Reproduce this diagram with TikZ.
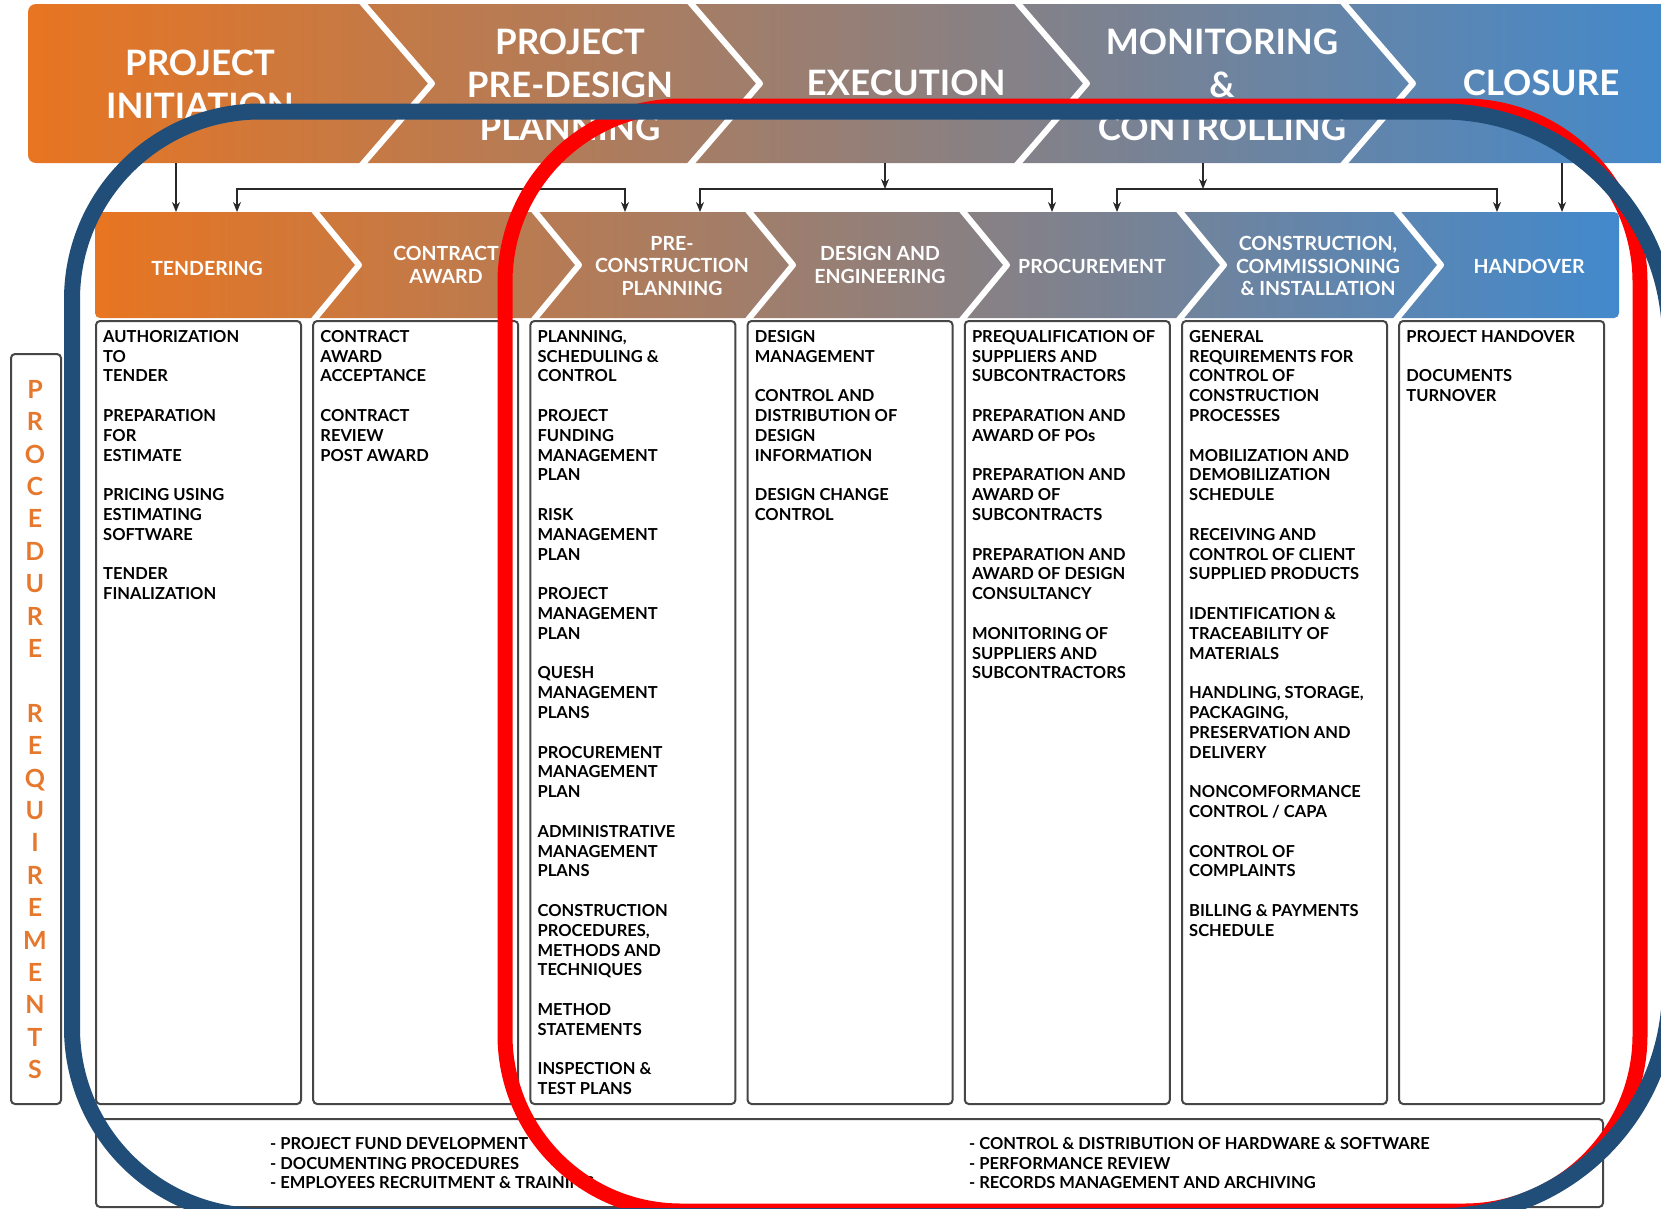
\documentclass[tikz,border=0pt]{standalone}
\usepackage{fontspec}
\setmainfont{Lato}
\usetikzlibrary{arrows.meta}
\definecolor{cOr}{RGB}{232,117,33}
\definecolor{cMid}{RGB}{160,124,106}
\definecolor{cBl}{RGB}{66,137,204}
\definecolor{cBorder}{RGB}{70,70,70}
\definecolor{cOrT}{RGB}{230,120,45}
\definecolor{cNavy}{RGB}{33,78,121}
\definecolor{cArr}{RGB}{40,40,40}
\begin{document}
\begin{tikzpicture}[x=1pt,y=-1pt,
  phase/.style={text=white, font=\fontsize{35}{43}\selectfont\bfseries, align=center, inner sep=0pt},
  sub/.style={text=white, font=\fontsize{19.5}{22.5}\selectfont\bfseries, align=center, inner sep=0pt},
  colbox/.style={draw=cBorder, line width=2pt, rounded corners=4pt, fill=white, anchor=north west, inner sep=0pt},
  items/.style={anchor=north west, align=left, inner sep=0pt, font=\fontsize{16.5}{19.8}\selectfont\bfseries, text=black},
  sepline/.style={white, line width=6pt, line join=round},
  conn/.style={cArr, line width=1.4pt},
  arr/.style={conn, -{Stealth[length=10pt,width=8pt]}},
  darr/.style={conn, {Stealth[length=10pt,width=8pt]}-{Stealth[length=10pt,width=8pt]}},
]
\useasboundingbox (0,0) rectangle (1661,1208);
\fill[white] (0,0) rectangle (1661,1208);

% top banner
\shade[left color=cOr, middle color=cMid, right color=cBl, rounded corners=8pt] (28,4) rectangle (1680,163);
\foreach \xs in {360,688,1015,1341}
  \draw[sepline] (\xs,0) -- ({\xs+72},83.5) -- (\xs,167);

\node[phase] (pInit) at (200,84) {PROJECT\\INITIATION};
\node[phase] (pPre) at (570,85) {PROJECT\\PRE-DESIGN\\PLANNING};
\node[phase] (pExec) at (906,83) {EXECUTION};
\node[phase] (pMon) at (1222,85) {MONITORING\\\&\\CONTROLLING};
\node[phase] (pClos) at (1541,83) {CLOSURE};

% sub-phase band
\shade[left color=cOr, middle color=cMid, right color=cBl, rounded corners=5pt] (95,212) rectangle (1619,318);
\foreach \xs in {312,532,746,960,1177,1394}
  \draw[sepline] (\xs,208) -- ({\xs+47},265) -- (\xs,322);

\node[sub] (sTend) at (207,268) {TENDERING};
\node[sub] (sAward) at (446,265) {CONTRACT\\AWARD};
\node[sub] (sPre) at (672,266) {PRE-\\CONSTRUCTION\\PLANNING};
\node[sub] (sDes) at (880,265) {DESIGN AND\\ENGINEERING};
\node[sub] (sProc) at (1092,266) {PROCUREMENT};
\node[sub] (sCons) at (1318,266) {CONSTRUCTION,\\COMMISSIONING\\\& INSTALLATION};
\node[sub] (sHand) at (1529,266) {HANDOVER};

% connectors
\coordinate (iniB) at (176,163);  \coordinate (tenT) at (176,212);
\draw[arr] (iniB) -- (tenT);
\coordinate (b1L) at (237,212); \coordinate (b1R) at (625,212);
\draw[darr] (b1L) -- ++(0,-23) -| (b1R);
\coordinate (exB) at (885,163); \coordinate (exM) at (885,189);
\draw[arr] (exB) -- (exM);
\coordinate (b2L) at (700,212); \coordinate (b2R) at (1052,212);
\draw[darr] (b2L) -- ++(0,-23) -| (b2R);
\coordinate (moB) at (1203,163); \coordinate (moM) at (1203,189);
\draw[arr] (moB) -- (moM);
\coordinate (b3L) at (1117,212); \coordinate (b3R) at (1497,212);
\draw[darr] (b3L) -- ++(0,-23) -| (b3R);
\coordinate (clB) at (1562,163); \coordinate (haT) at (1562,212);
\draw[arr] (clB) -- (haT);

% column boxes
\node[colbox, minimum width=205pt, minimum height=783pt] (c1) at (95,320) {};
\node[colbox, minimum width=205pt, minimum height=783pt] (c2) at (312.2,320) {};
\node[colbox, minimum width=205pt, minimum height=783pt] (c3) at (529.4,320) {};
\node[colbox, minimum width=205pt, minimum height=783pt] (c4) at (746.6,320) {};
\node[colbox, minimum width=205pt, minimum height=783pt] (c5) at (963.8,320) {};
\node[colbox, minimum width=205pt, minimum height=783pt] (c6) at (1181,320) {};
\node[colbox, minimum width=205pt, minimum height=783pt] (c7) at (1398.2,320) {};

\node[items] (t1) at (103,330) {AUTHORIZATION\\TO\\TENDER\\[19.8pt]PREPARATION\\FOR\\ESTIMATE\\[19.8pt]PRICING USING\\ESTIMATING\\SOFTWARE\\[19.8pt]TENDER\\FINALIZATION};
\node[items] (t2) at (320.2,330) {CONTRACT\\AWARD\\ACCEPTANCE\\[19.8pt]CONTRACT\\REVIEW\\POST AWARD};
\node[items] (t3) at (537.4,330) {PLANNING,\\SCHEDULING \&\\CONTROL\\[19.8pt]PROJECT\\FUNDING\\MANAGEMENT\\PLAN\\[19.8pt]RISK\\MANAGEMENT\\PLAN\\[19.8pt]PROJECT\\MANAGEMENT\\PLAN\\[19.8pt]QUESH\\MANAGEMENT\\PLANS\\[19.8pt]PROCUREMENT\\MANAGEMENT\\PLAN\\[19.8pt]ADMINISTRATIVE\\MANAGEMENT\\PLANS\\[19.8pt]CONSTRUCTION\\PROCEDURES,\\METHODS AND\\TECHNIQUES\\[19.8pt]METHOD\\STATEMENTS\\[19.8pt]INSPECTION \&\\TEST PLANS};
\node[items] (t4) at (754.6,330) {DESIGN\\MANAGEMENT\\[19.8pt]CONTROL AND\\DISTRIBUTION OF\\DESIGN\\INFORMATION\\[19.8pt]DESIGN CHANGE\\CONTROL};
\node[items] (t5) at (971.8,330) {PREQUALIFICATION OF\\SUPPLIERS AND\\SUBCONTRACTORS\\[19.8pt]PREPARATION AND\\AWARD OF POs\\[19.8pt]PREPARATION AND\\AWARD OF\\SUBCONTRACTS\\[19.8pt]PREPARATION AND\\AWARD OF DESIGN\\CONSULTANCY\\[19.8pt]MONITORING OF\\SUPPLIERS AND\\SUBCONTRACTORS};
\node[items] (t6) at (1189,330) {GENERAL\\REQUIREMENTS FOR\\CONTROL OF\\CONSTRUCTION\\PROCESSES\\[19.8pt]MOBILIZATION AND\\DEMOBILIZATION\\SCHEDULE\\[19.8pt]RECEIVING AND\\CONTROL OF CLIENT\\SUPPLIED PRODUCTS\\[19.8pt]IDENTIFICATION \&\\TRACEABILITY OF\\MATERIALS\\[19.8pt]HANDLING, STORAGE,\\PACKAGING,\\PRESERVATION AND\\DELIVERY\\[19.8pt]NONCOMFORMANCE\\CONTROL / CAPA\\[19.8pt]CONTROL OF\\COMPLAINTS\\[19.8pt]BILLING \& PAYMENTS\\SCHEDULE};
\node[items] (t7) at (1406.2,330) {PROJECT HANDOVER\\[19.8pt]DOCUMENTS\\TURNOVER};

% bottom box
\node[colbox, minimum width=1507pt, minimum height=88pt] (bot) at (95,1118) {};
\node[items] (bl) at (270,1137) {- PROJECT FUND DEVELOPMENT\\- DOCUMENTING PROCEDURES\\- EMPLOYEES RECRUITMENT \& TRAINING};
\node[items] (br) at (969,1137) {- CONTROL \& DISTRIBUTION OF HARDWARE \& SOFTWARE\\- PERFORMANCE REVIEW\\- RECORDS MANAGEMENT AND ARCHIVING};

% procedure requirements
\node[colbox, minimum width=50pt, minimum height=750pt] (proc) at (10,353) {};
\node[font=\fontsize{25}{32.4}\selectfont\bfseries, text=cOrT, align=center, inner sep=0pt] (procT) at (35,729.5)
  {P\\R\\O\\C\\E\\D\\U\\R\\E\\[32.4pt]R\\E\\Q\\U\\I\\R\\E\\M\\E\\N\\T\\S};

% overlays
\draw[red, line width=15pt, rounded corners=176pt] (505,106) rectangle (1640,1211);
\draw[cNavy, line width=16pt] (72,1028) -- (72,299.5) arc(180:270:188) -- (1442,111.5) arc(270:360:228) -- (1670,988) arc(0:90:228) -- (260,1216) arc(90:180:188) -- cycle;
\end{tikzpicture}
\end{document}
